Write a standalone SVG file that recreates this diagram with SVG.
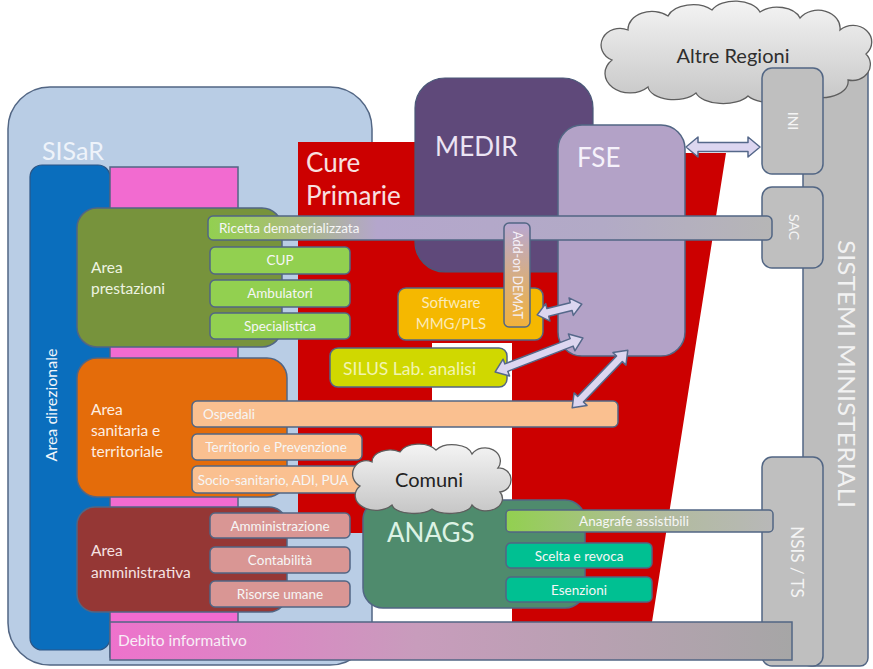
<svg xmlns="http://www.w3.org/2000/svg" width="873" height="669" viewBox="0 0 873 669">
<defs>
<linearGradient id="gRic" x1="0" y1="0" x2="1" y2="0">
<stop offset="0" stop-color="#92d050"/><stop offset="0.12" stop-color="#a6c070"/><stop offset="0.3" stop-color="#b4a6cc"/><stop offset="0.7" stop-color="#b2aac6"/><stop offset="1" stop-color="#b6b6b6"/>
</linearGradient>
<linearGradient id="gAna" x1="0" y1="0" x2="1" y2="0">
<stop offset="0" stop-color="#92d050"/><stop offset="0.5" stop-color="#b0bc98"/><stop offset="1" stop-color="#b8b8b8"/>
</linearGradient>
<linearGradient id="gDeb" x1="0" y1="0" x2="1" y2="0">
<stop offset="0" stop-color="#ee72cc"/><stop offset="0.45" stop-color="#c89cbc"/><stop offset="1" stop-color="#a6a6a6"/>
</linearGradient>
<linearGradient id="gDem" x1="0" y1="0" x2="0" y2="1">
<stop offset="0" stop-color="#b8a8d2"/><stop offset="1" stop-color="#f2b23a"/>
</linearGradient>
<linearGradient id="gCloud" x1="0" y1="0" x2="0" y2="1">
<stop offset="0" stop-color="#f4f4f4"/><stop offset="1" stop-color="#c6c6c6"/>
</linearGradient>
</defs>
<style>
text{font-family:Lato,'Open Sans','Liberation Sans',sans-serif}
.bx{stroke:#526684;stroke-width:1.5}
.sub{font-size:13.5px;fill:#f6f6f6;text-anchor:middle;dominant-baseline:central}
.subl{font-size:13.5px;fill:#f6f6f6;dominant-baseline:central}
.area{font-size:15.5px}
.big{font-size:26px}
.vt{text-anchor:middle;dominant-baseline:central}
.cloud{fill:url(#gCloud);stroke:#5e5e5e;stroke-width:1.3}
.arr{fill:#dcd6f0;stroke:#55688a;stroke-width:1.5;stroke-linejoin:round}
</style>
<rect width="873" height="669" fill="#ffffff"/>

<g id="sisar">
<rect class="bx" x="8" y="87" width="364" height="578" rx="42" fill="#b9cde5"/>
<text x="42" y="160" font-size="25" fill="#eef3fa">SISaR</text>
</g>

<g id="cure-primarie">
<polygon points="298,142 600,142 600,153 726,153 652,622 512,622 512,343 432,343 432,533 298,533" fill="#cc0000"/>
<text x="306" y="172" font-size="26" fill="#f8e0e0">Cure</text>
<text x="306" y="205" font-size="26" fill="#f8e0e0">Primarie</text>
</g>

<g id="medir">
<rect x="415" y="78" width="178" height="194" rx="30" fill="#5f497a" stroke="#4a5878" stroke-width="1.2"/>
<text x="435" y="156" class="big" fill="#ece4f4">MEDIR</text>
</g>

<g id="fse">
<rect class="bx" x="558" y="125" width="127" height="231" rx="24" fill="#b3a2c7"/>
<text x="577" y="167" class="big" fill="#f6f2fb">FSE</text>
</g>

<g id="sistemi-ministeriali">
<rect class="bx" x="803" y="58" width="65" height="608" rx="8" fill="#bdbdbd"/>
<text class="vt" transform="translate(847,374) rotate(90)" font-size="24" textLength="268" lengthAdjust="spacingAndGlyphs" fill="#f2f2f2">SISTEMI MINISTERIALI</text>
</g>

<g id="altre-regioni">
<path class="cloud" d="M612,60 A16,14 0 0 1 628,30 A24,18 0 0 1 668,16 A26,16 0 0 1 712,10 A26,16 0 0 1 760,12 A24,16 0 0 1 800,18 A22,18 0 0 1 840,30 A18,16 0 0 1 866,54 A18,16 0 0 1 848,80 A26,16 0 0 1 800,90 A28,14 0 0 1 748,96 A28,14 0 0 1 696,93 A26,14 0 0 1 648,87 A18,14 0 0 1 612,60 Z"/>
<text x="733" y="55" class="vt" font-size="20" fill="#2e2e2e">Altre Regioni</text>
</g>

<g id="ini">
<rect class="bx" x="762" y="68" width="61" height="106" rx="10" fill="#bfbfbf"/>
<text class="vt" transform="translate(793,121) rotate(90)" font-size="14" fill="#f4f4f4">INI</text>
</g>
<g id="sac">
<rect class="bx" x="762" y="187" width="61" height="81" rx="10" fill="#bfbfbf"/>
<text class="vt" transform="translate(794,227) rotate(90)" font-size="14" fill="#f4f4f4">SAC</text>
</g>
<g id="nsis-ts">
<rect class="bx" x="762" y="457" width="61" height="209" rx="10" fill="#bfbfbf"/>
<text class="vt" transform="translate(797,562) rotate(90)" font-size="17" fill="#f4f4f4">NSIS / TS</text>
</g>

<g id="area-direzionale">
<rect x="30" y="165" width="80" height="485" rx="12" fill="#0a6ebd" stroke="#2c5585" stroke-width="1.2"/>
<text class="vt" transform="translate(50,405) rotate(-90)" font-size="16" fill="#f2f6fb">Area direzionale</text>
</g>

<g id="debito-col">
<rect class="bx" x="110" y="167" width="128" height="490" fill="#f26bd0"/>
</g>

<g id="area-prestazioni">
<rect class="bx" x="77" y="208" width="205" height="139" rx="20" fill="#77933c"/>
<text x="91" y="273" class="area" fill="#eef3e2">Area</text>
<text x="91" y="294" class="area" fill="#eef3e2">prestazioni</text>
</g>
<g id="cup"><rect class="bx" x="210" y="247" width="140" height="27" rx="5" fill="#92d050"/><text class="sub" x="280" y="260">CUP</text></g>
<g id="ambulatori"><rect class="bx" x="210" y="280" width="140" height="27" rx="5" fill="#92d050"/><text class="sub" x="280" y="293">Ambulatori</text></g>
<g id="specialistica"><rect class="bx" x="210" y="313" width="140" height="26" rx="5" fill="#92d050"/><text class="sub" x="280" y="326">Specialistica</text></g>

<g id="area-sanitaria">
<rect class="bx" x="77" y="358" width="210" height="139" rx="20" fill="#e46c0a"/>
<text x="91" y="415" class="area" fill="#fdeee2">Area</text>
<text x="91" y="436" class="area" fill="#fdeee2">sanitaria e</text>
<text x="91" y="457" class="area" fill="#fdeee2">territoriale</text>
</g>
<g id="territorio"><rect class="bx" x="192" y="434" width="170" height="26" rx="5" fill="#fac090"/><text class="sub" x="276" y="447">Territorio e Prevenzione</text></g>
<g id="socio-sanitario"><rect class="bx" x="192" y="466" width="178" height="27" rx="5" fill="#fac090"/><text class="sub" x="273" y="480" font-size="12.5">Socio-sanitario, ADI, PUA</text></g>

<g id="area-amministrativa">
<rect class="bx" x="77" y="507" width="210" height="105" rx="18" fill="#953735"/>
<text x="91" y="556" class="area" fill="#f6e2e2">Area</text>
<text x="91" y="578" class="area" fill="#f6e2e2">amministrativa</text>
</g>
<g id="amministrazione"><rect class="bx" x="210" y="513" width="140" height="25" rx="5" fill="#d99694"/><text class="sub" x="280" y="526">Amministrazione</text></g>
<g id="contabilita"><rect class="bx" x="210" y="547" width="140" height="26" rx="5" fill="#d99694"/><text class="sub" x="280" y="560">Contabilità</text></g>
<g id="risorse-umane"><rect class="bx" x="210" y="581" width="140" height="26" rx="5" fill="#d99694"/><text class="sub" x="280" y="594">Risorse umane</text></g>

<g id="anags">
<rect class="bx" x="363" y="500" width="222" height="108" rx="20" fill="#4f8b6d"/>
<text x="387" y="542" class="big" fill="#dcf2e4">ANAGS</text>
</g>
<g id="scelta-revoca"><rect class="bx" x="506" y="543" width="146" height="25" rx="5" fill="#00c092"/><text class="sub" x="579" y="556">Scelta e revoca</text></g>
<g id="esenzioni"><rect class="bx" x="506" y="577" width="146" height="25" rx="5" fill="#00c092"/><text class="sub" x="579" y="590">Esenzioni</text></g>

<g id="ricetta"><rect class="bx" x="208" y="216" width="564" height="24" rx="5" fill="url(#gRic)"/><text class="subl" x="219" y="228">Ricetta dematerializzata</text></g>
<g id="ospedali"><rect class="bx" x="192" y="401" width="426" height="26" rx="5" fill="#fac090"/><text class="subl" x="203" y="414">Ospedali</text></g>
<g id="anagrafe"><rect class="bx" x="506" y="510" width="267" height="22" rx="4" fill="url(#gAna)"/><text class="sub" x="634" y="521">Anagrafe assistibili</text></g>
<g id="debito"><rect class="bx" x="110" y="622" width="682" height="38" fill="url(#gDeb)"/><text x="118" y="646" font-size="15.5" fill="#f8eef6">Debito informativo</text></g>

<g id="software">
<rect class="bx" x="398" y="288" width="145" height="52" rx="8" fill="#f5b800"/>
<text x="451" y="302" class="vt" font-size="15" fill="#fbeab8">Software</text>
<text x="451" y="323" class="vt" font-size="15" fill="#fbeab8">MMG/PLS</text>
</g>
<g id="silus">
<rect class="bx" x="330" y="348" width="177" height="39" rx="8" fill="#d0d800"/>
<text x="343" y="368" font-size="17.5" fill="#f2f4b0" dominant-baseline="central">SILUS Lab. analisi</text>
</g>
<g id="demat">
<rect class="bx" x="504" y="223" width="26" height="104" rx="5" fill="url(#gDem)"/>
<text class="vt" transform="translate(517,275) rotate(90)" font-size="12.5" fill="#f6f2fa">Add-on DEMAT</text>
</g>

<g id="comuni">
<path class="cloud" d="M360,486 A10,10 0 0 1 372,462 A18,12 0 0 1 400,452 A20,12 0 0 1 436,450 A20,12 0 0 1 472,454 A14,12 0 0 1 498,468 A10,10 0 0 1 500,492 A16,12 0 0 1 472,505 A22,10 0 0 1 432,509 A22,10 0 0 1 392,505 A14,10 0 0 1 360,486 Z"/>
<text x="429" y="479" class="vt" font-size="20" fill="#222">Comuni</text>
</g>

<g id="connectors">
<path class="arr" transform="translate(723,147)" d="M-37,0 L-25,-10 L-25,-4.5 L25,-4.5 L25,-10 L37,0 L25,10 L25,4.5 L-25,4.5 L-25,10 Z"/>
<path class="arr" transform="translate(559.5,309.5) rotate(-13.7)" d="M-23,0 L-12,-9 L-12,-4 L12,-4 L12,-9 L23,0 L12,9 L12,4 L-12,4 L-12,9 Z"/>
<path class="arr" transform="translate(539,355) rotate(-21.1)" d="M-47,0 L-35,-9 L-35,-4 L35,-4 L35,-9 L47,0 L35,9 L35,4 L-35,4 L-35,9 Z"/>
<path class="arr" transform="translate(600,379) rotate(-46)" d="M-40,0 L-28,-9 L-28,-4 L28,-4 L28,-9 L40,0 L28,9 L28,4 L-28,4 L-28,9 Z"/>
</g>
</svg>
